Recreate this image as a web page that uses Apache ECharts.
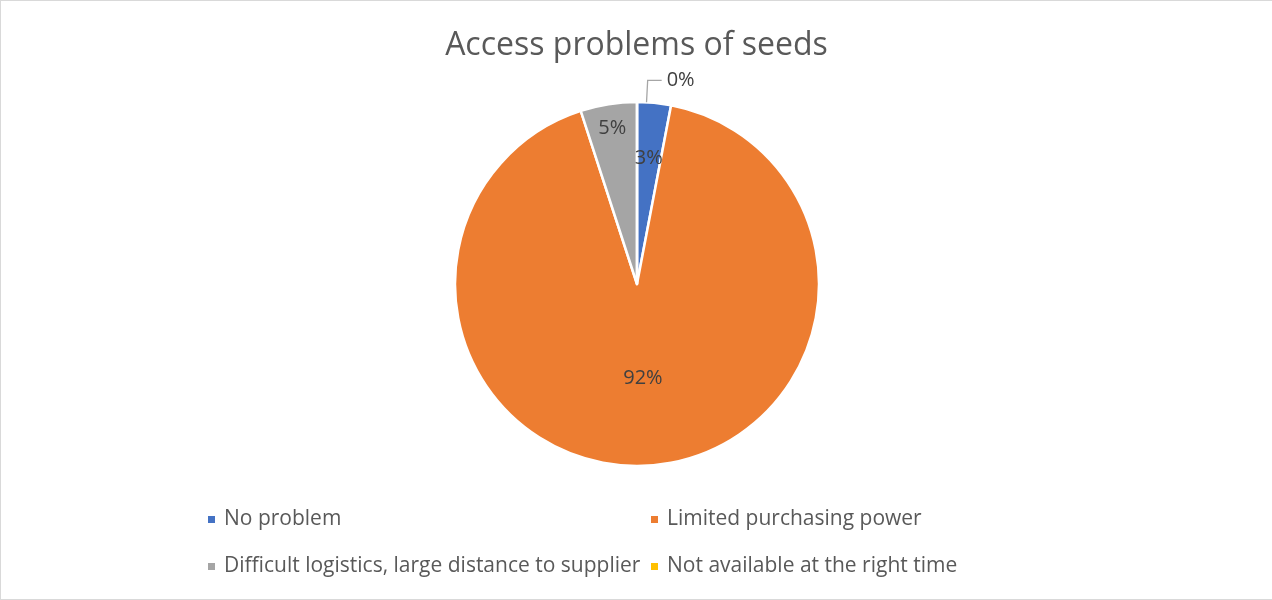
<!DOCTYPE html>
<html><head><meta charset="utf-8">
<script src="https://cdn.jsdelivr.net/npm/echarts@6/dist/echarts.min.js"></script>
<style>
html,body{margin:0;padding:0;background:#fff;}
#c{width:1272px;height:600px;box-sizing:border-box;border:1px solid #d9d9d9;border-right:none;}
</style></head>
<body><div id="c"></div>
<script>
const title = "Access problems of seeds";
const categories = ["No problem", "Limited purchasing power", "Difficult logistics, large distance to supplier", "Not available at the right time"];
const values = [3, 92, 5, 0];
const colors = ["#4472C4", "#ED7D31", "#A5A5A5", "#FFC000"];

const FONT = "Open Sans";
const chart = echarts.init(document.getElementById('c'));
const center = [636, 283];
const R = 182;

function mainData() {
  return categories.map((n, i) => ({
    name: n, value: values[i],
    itemStyle: { color: colors[i] }
  }));
}
function labelData(showIdx) {
  return categories.map((n, i) => ({
    name: n, value: values[i],
    itemStyle: { color: 'rgba(0,0,0,0)', borderWidth: 0 },
    label: { show: i === showIdx },
    labelLine: { show: i === showIdx }
  }));
}
const labelStyle = { color: '#404040', fontFamily: FONT, fontSize: 20, formatter: p => Math.round(p.percent) + '%' };

function labelPie(idx, r0) {
  return {
    type: 'pie', center: center, radius: [r0, R], silent: true, startAngle: 90,
    label: Object.assign({ position: 'inside' }, labelStyle),
    labelLine: { show: false },
    emphasis: { disabled: true },
    data: labelData(idx), z: 5
  };
}
// outside label for the zero slice: zero item listed first so its line leaves to the right
const order = [3, 0, 1, 2];
const zeroPieData = order.map(i => ({
  name: categories[i], value: values[i],
  itemStyle: { color: 'rgba(0,0,0,0)', borderWidth: 0 },
  label: { show: i === 3 }, labelLine: { show: i === 3 }
}));

const legendText = { fontFamily: FONT, fontSize: 21, color: '#595959', padding: [0, 0, 0, 3] };

chart.setOption({
  animation: false,
  title: { text: title, left: 'center', top: 24,
    textStyle: { fontFamily: FONT, fontSize: 32, fontWeight: 'normal', color: '#595959' } },
  legend: [
    { data: [categories[0], categories[2]], orient: 'vertical', left: 205, top: 508, itemGap: 26, padding: 0,
      icon: 'rect', itemWidth: 9, itemHeight: 9, textStyle: legendText },
    { data: [categories[1], categories[3]], orient: 'vertical', left: 648, top: 508, itemGap: 26, padding: 0,
      icon: 'rect', itemWidth: 9, itemHeight: 9, textStyle: legendText }
  ],
  series: [
    {
      type: 'pie', center: center, radius: R, startAngle: 90, clockwise: true,
      itemStyle: { borderColor: '#fff', borderWidth: 2.5 },
      label: { show: false }, labelLine: { show: false },
      emphasis: { disabled: true },
      data: mainData()
    },
    labelPie(1, 0),
    labelPie(0, 64),
    labelPie(2, 128),
    {
      type: 'pie', center: center, radius: R, startAngle: 87, silent: true, z: 5,
      avoidLabelOverlap: false,
      label: Object.assign({ position: 'outside', distanceToLabelLine: 5 }, labelStyle),
      labelLine: { length: 22, length2: 14, lineStyle: { color: '#A6A6A6', width: 1.3 } },
      emphasis: { disabled: true },
      data: zeroPieData
    }
  ]
});
</script></body></html>
